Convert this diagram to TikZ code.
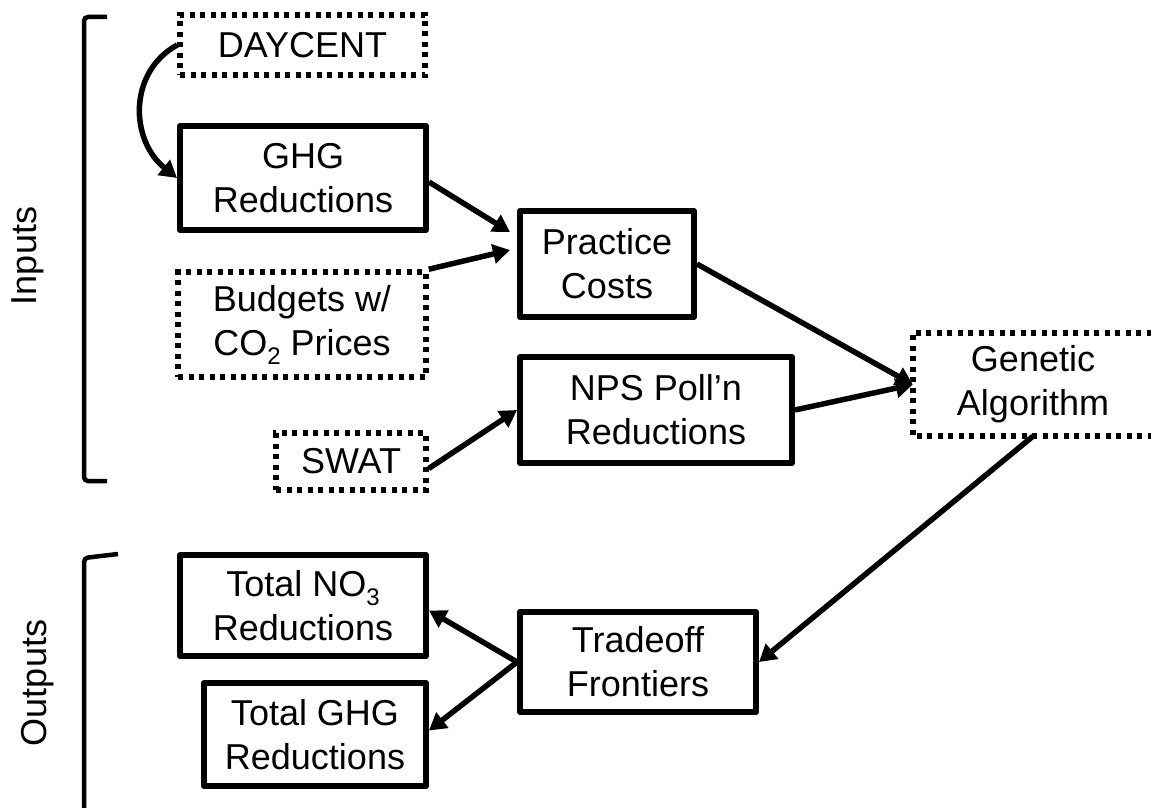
\documentclass[tikz,border=0pt]{standalone}
\usepackage{fontspec}
\setmainfont{Liberation Sans}
\usetikzlibrary{arrows.meta,calc}
\newcommand\subsc[1]{\raisebox{-0.25em}{\fontsize{24}{24}\selectfont #1}}
\begin{document}
\begin{tikzpicture}[x=1pt,y=-1pt,
  every node/.style={font=\fontsize{36}{44}\selectfont, align=center, inner sep=0pt},
  solidbox/.style={draw, line width=6pt, line join=round},
  dotbox/.style={draw, line width=5.5pt, dash pattern=on 5pt off 5.5pt},
  arr/.style={line width=5.5pt, -{Triangle[length=17pt,width=19pt]}},
  brk/.style={line width=4.5pt, rounded corners=4pt}]
\useasboundingbox (0,0) rectangle (1151,808);

% brackets and labels
\draw[brk] (107,17) -- (84,17) -- (84,481) -- (107,481);
\draw[brk] (118,554) -- (84,558) -- (84,815);
\node[rotate=90] (inlab) at (28,256) {Inputs};
\node[rotate=90] (outlab) at (38,683) {Outputs};

% input nodes
\node[dotbox, minimum width=245pt, minimum height=60pt] (daycent) at (302.5,45) {DAYCENT};
\node[solidbox, minimum width=246pt, minimum height=104pt] (ghg) at (303,178) {GHG\\Reductions};
\node[dotbox, minimum width=248pt, minimum height=105pt] (budgets) at (302,324.5) {Budgets w/\\CO\subsc{2} Prices};
\node[dotbox, minimum width=150pt, minimum height=57pt] (swat) at (351,461.5) {SWAT};
\node[solidbox, minimum width=174pt, minimum height=106pt] (practice) at (607,264) {Practice\\Costs};
\node[solidbox, minimum width=272pt, minimum height=106pt] (nps) at (656,410) {NPS Poll’n\\Reductions};
\node[minimum width=240pt, minimum height=103pt] (ga) at (1033,384.5) {Genetic\\Algorithm};
\draw[dotbox] ($(ga.north west)+(260,0)$) -- (ga.north west) -- (ga.south west) -- ++(260,0);

% output nodes
\node[solidbox, minimum width=236pt, minimum height=100pt] (trade) at (638,662) {Tradeoff\\Frontiers};
\node[solidbox, minimum width=246pt, minimum height=101pt] (no3) at (303,605.5) {Total NO\subsc{3}\\Reductions};
\node[solidbox, minimum width=222pt, minimum height=103pt] (ghgtot) at (315,734.5) {Total GHG\\Reductions};

% connectors
\draw[arr] (daycent.west) .. controls (128,72) and (130,140) .. (ghg.west);
\draw[arr] ($(ghg.east)+(0,4)$) -- ($(practice.west)+(-7,-32)$);
\draw[arr] (budgets.north east) -- ($(practice.west)+(-7,-14)$);
\draw[arr] (practice.east) -- (ga.west);
\draw[arr] (nps.east) -- (ga.west);
\draw[arr] ($(swat.east)+(0,7)$) -- (nps.west);
\draw[arr] (ga.south) -- (trade.east);
\draw[arr] (trade.west) -- ($(no3.east)+(0,5)$);
\draw[arr] (trade.west) -- ($(ghgtot.east)+(0,-4)$);
\end{tikzpicture}
\end{document}
